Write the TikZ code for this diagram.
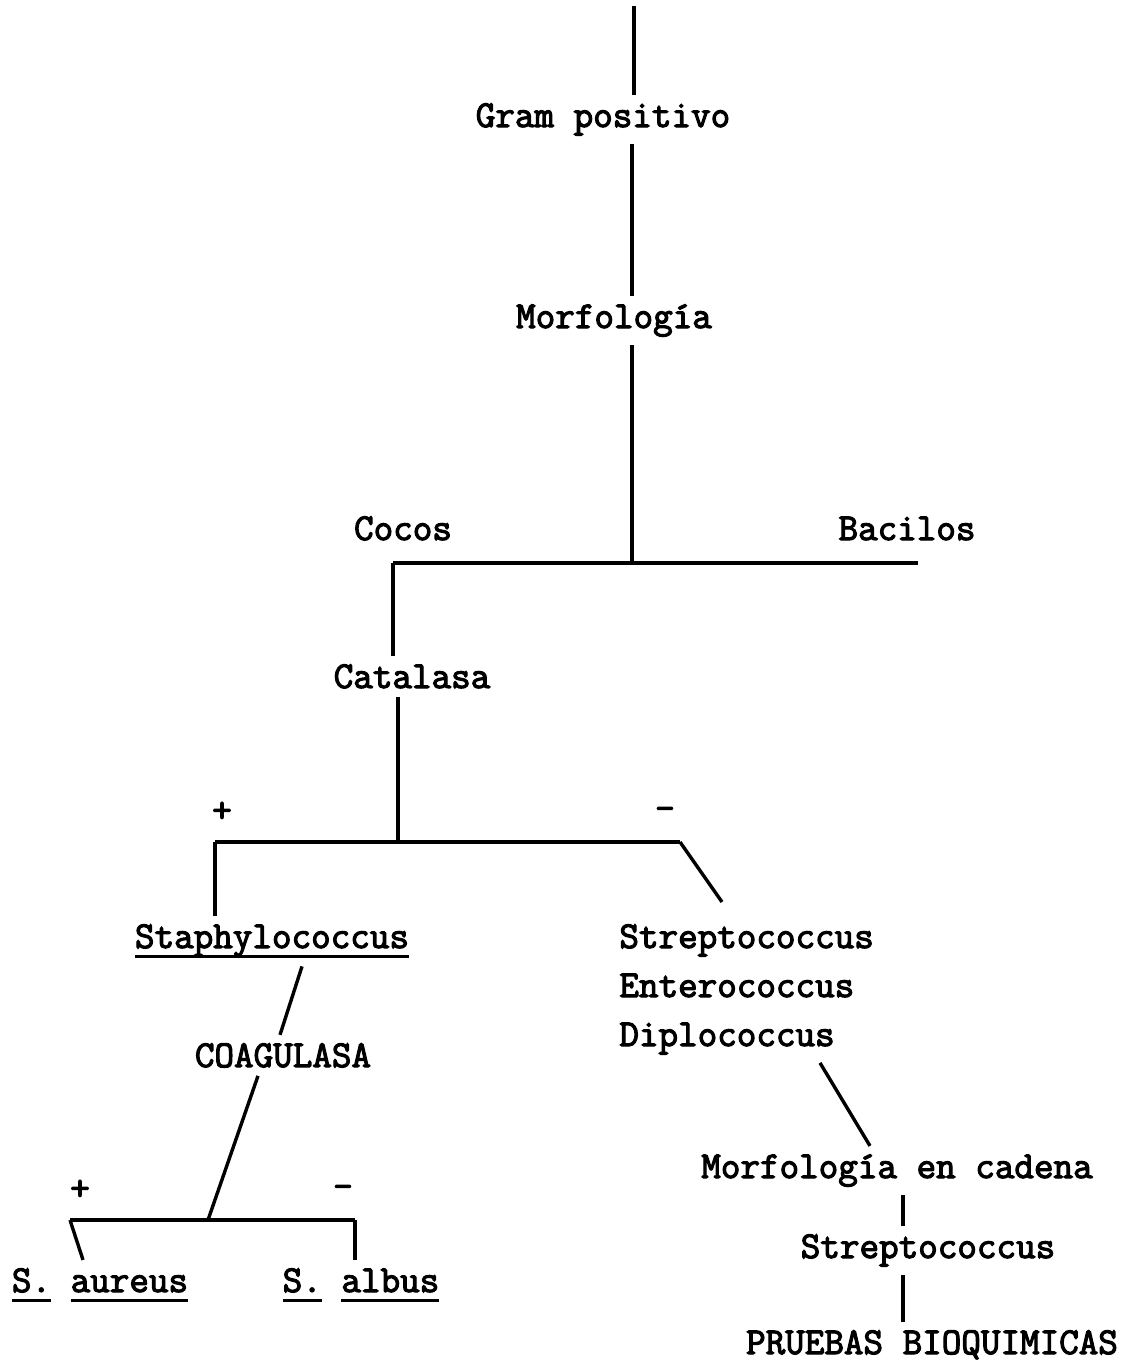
\documentclass[tikz,border=0pt]{standalone}
\usepackage{fontspec}
\newfontfamily\typewr{Latin Modern Mono}[FakeBold=3]
\newcommand\typul[1]{\setbox0\hbox{#1}\rlap{\vrule height -3.4pt depth 5pt width \wd0}\box0\relax}

\begin{document}
\begin{tikzpicture}[x=0.5pt,y=-0.5pt,
    every node/.style={font=\fontsize{19}{22}\typewr,inner sep=4pt,anchor=base},
    link/.style={line width=1.7pt}]
    \useasboundingbox (0,0) rectangle (1131,1360);
    % main trunk
    \node at (603,127) (gram) {Gram positivo};
    \node at (614,328) (morf) {Morfología};
    \node at (403,540) (cocos) {Cocos};
    \node at (907,540) (bac) {Bacilos};
    \node at (412,688) (cat) {Catalasa};
    \node at (222,822) (pos) {+};
    \node at (665,820) (neg) {-};
    \node at (272,948) (staph) {\typul{Staphylococcus}};
    \node[anchor=base west] at (611,948) (strep) {Streptococcus};
    \node[anchor=base west] at (611,997) (entero) {Enterococcus};
    \node[anchor=base west] at (611,1046) (diplo) {Diplococcus};
    % staphylococcus branch
    \node at (283,1067) (coag) {COAGULASA};
    \node at (80,1200) (pos2) {+};
    \node at (343,1198) (neg2) {-};
    \node at (100,1292) (aur) {\typul{S.} \typul{aureus}};
    \node at (361,1292) (alb) {\typul{S.} \typul{albus}};
    % streptococcus branch
    \node at (897,1178) (cad) {Morfología en cadena};
    \node at (928,1258) (strep2) {Streptococcus};
    \node at (932,1354) (pru) {PRUEBAS BIOQUIMICAS};
    % junctions
    \coordinate (top) at (634,6);
    \coordinate (j1) at (632,563);
    \coordinate (b1l) at (393,563);
    \coordinate (b1r) at (918,563);
    \coordinate (j2) at (398,842);
    \coordinate (b2l) at (215,842);
    \coordinate (b2r) at (680,842);
    \coordinate (s1) at (722,902);
    \coordinate (c1) at (302,0);
    \coordinate (c2) at (280,0);
    \coordinate (c3) at (258,0);
    \coordinate (j3) at (208,1220);
    \coordinate (b3l) at (70,1220);
    \coordinate (b3r) at (355,1220);
    \coordinate (a1) at (83,0);
    \coordinate (d1) at (820,0);
    \coordinate (d2) at (870,0);
    \coordinate (v) at (903,0);
    \draw[link] (top) -- (gram.north -| top);
    \draw[link] (gram.south -| j1) -- (morf.north -| j1);
    \draw[link] (morf.south -| j1) -- (j1);
    \draw[link] (b1l) -- (b1r);
    \draw[link] (b1l) -- (cat.north -| b1l);
    \draw[link] (cat.south -| j2) -- (j2);
    \draw[link] (b2l) -- (b2r);
    \draw[link] (b2l) -- (staph.north -| b2l);
    \draw[link] (b2r) -- (s1);
    \draw[link] (staph.south -| c1) -- (coag.north -| c2);
    \draw[link] (coag.south -| c3) -- (j3);
    \draw[link] (b3l) -- (b3r);
    \draw[link] (b3l) -- (aur.north -| a1);
    \draw[link] (b3r) -- (alb.north -| b3r);
    \draw[link] (diplo.south -| d1) -- (cad.north -| d2);
    \draw[link] (cad.south -| v) -- (strep2.north -| v);
    \draw[link] (strep2.south -| v) -- (pru.north -| v);
\end{tikzpicture}
\end{document}
